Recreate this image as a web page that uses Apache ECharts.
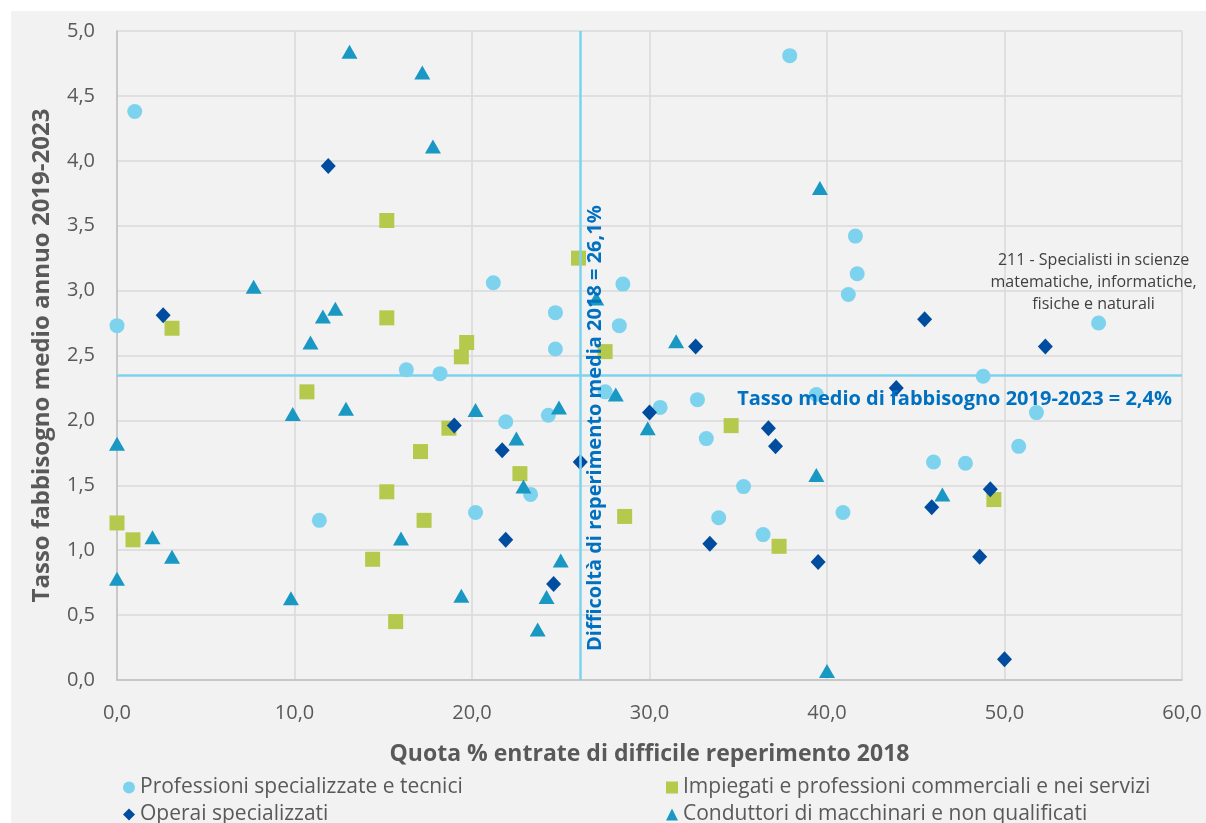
<!DOCTYPE html>
<html>
<head>
<meta charset="utf-8">
<script src="https://cdn.jsdelivr.net/npm/echarts@6/dist/echarts.min.js"></script>
<style>
  body { margin: 0; background: #ffffff; }
  #bg { position: absolute; left: 11px; top: 11px; width: 1195px; height: 812px; background: #f2f2f2; }
  #chart { position: absolute; left: 0; top: 0; width: 1206px; height: 823px; }
</style>
</head>
<body>
<div id="bg"></div>
<div id="chart"></div>
<script>
// [quota % difficile reperimento, tasso fabbisogno]
const professioni = [
    [1.0, 4.38], [0.0, 2.73], [37.9, 4.81], [41.6, 3.42], [41.7, 3.13], [41.2, 2.97],
    [21.2, 3.06], [28.5, 3.05], [24.7, 2.83], [28.3, 2.73], [24.7, 2.55], [16.3, 2.39],
    [18.2, 2.36], [27.5, 2.22], [21.9, 1.99], [24.3, 2.04], [30.6, 2.10], [32.7, 2.16],
    [33.2, 1.86], [35.3, 1.49], [33.9, 1.25], [36.4, 1.12], [23.3, 1.43], [20.2, 1.29],
    [11.4, 1.23], [39.4, 2.20], [48.8, 2.34], [51.8, 2.06], [50.8, 1.80], [46.0, 1.68],
    [47.8, 1.67], [40.9, 1.29]
];
const specialistiScienze = [55.3, 2.75];
const impiegati = [
    [0.0, 1.21], [0.9, 1.08], [3.1, 2.71], [10.7, 2.22], [15.2, 3.54], [15.2, 2.79],
    [15.2, 1.45], [14.4, 0.93], [15.7, 0.45], [17.1, 1.76], [17.3, 1.23], [19.7, 2.60],
    [19.4, 2.49], [18.7, 1.94], [22.7, 1.59], [26.0, 3.25], [27.5, 2.53], [34.6, 1.96],
    [28.6, 1.26], [37.3, 1.03], [49.4, 1.39]
];
const operai = [
    [2.6, 2.81], [11.9, 3.96], [19.0, 1.96], [21.7, 1.77], [21.9, 1.08], [24.6, 0.74],
    [26.1, 1.68], [32.6, 2.57], [30.0, 2.06], [36.7, 1.94], [37.1, 1.80], [33.4, 1.05],
    [39.5, 0.91], [43.9, 2.25], [45.5, 2.78], [52.3, 2.57], [49.2, 1.47], [45.9, 1.33],
    [48.6, 0.95], [50.0, 0.16]
];
const conduttori = [
    [13.1, 4.84], [17.2, 4.68], [17.8, 4.11], [7.7, 3.03], [12.3, 2.86], [11.6, 2.80],
    [10.9, 2.60], [9.9, 2.05], [12.9, 2.09], [0.0, 1.82], [2.0, 1.10], [3.1, 0.95],
    [0.0, 0.78], [9.8, 0.63], [16.0, 1.09], [20.2, 2.08], [19.4, 0.65], [22.5, 1.86],
    [22.9, 1.49], [24.9, 2.10], [25.0, 0.92], [24.2, 0.64], [23.7, 0.39], [28.1, 2.20],
    [29.9, 1.94], [27.0, 2.94], [31.5, 2.61], [39.6, 3.79], [39.4, 1.58], [46.5, 1.43],
    [40.0, 0.07]
];
const mediaDifficolta = 26.1;
const mediaFabbisogno = 2.35;

const fontFamily = '"Open Sans", sans-serif';
const grey = '#595959';
const fmt = v => v.toFixed(1).replace('.', ',');

const chart = echarts.init(document.getElementById('chart'));

function legendAt(name, icon, left, top) {
    return {
        data: [{ name: name, icon: icon }],
        left: left,
        top: top,
        itemWidth: 12,
        itemHeight: 12,
        itemGap: 7,
        padding: 0,
        selectedMode: false,
        textStyle: { color: grey, fontSize: 21, fontFamily: fontFamily }
    };
}

chart.setOption({
    animation: false,
    backgroundColor: 'transparent',
    textStyle: { fontFamily: fontFamily },
    grid: { left: 117, right: 24, top: 31, bottom: 143 },
    legend: [
        legendAt('Professioni specializzate e tecnici', 'circle', 123, 777),
        legendAt('Impiegati e professioni commerciali e nei servizi', 'rect', 666, 777),
        legendAt('Operai specializzati', 'diamond', 123, 804),
        legendAt('Conduttori di macchinari e non qualificati', 'triangle', 666, 804)
    ],
    xAxis: {
        type: 'value',
        min: 0,
        max: 60,
        interval: 10,
        name: 'Quota % entrate di difficile reperimento 2018',
        nameLocation: 'middle',
        nameGap: 63,
        nameTextStyle: { color: grey, fontSize: 23, fontWeight: 'bold', fontFamily: fontFamily },
        axisLine: { show: true, lineStyle: { color: '#bfbfbf', width: 1.5 } },
        axisTick: { show: false },
        axisLabel: { color: grey, fontSize: 20, margin: 23, formatter: fmt },
        splitLine: { show: true, lineStyle: { color: '#d9d9d9', width: 1.5 } }
    },
    yAxis: {
        type: 'value',
        min: 0,
        max: 5,
        interval: 0.5,
        name: 'Tasso fabbisogno medio annuo 2019-2023',
        nameLocation: 'middle',
        nameGap: 63,
        nameTextStyle: { color: grey, fontSize: 24, fontWeight: 'bold', fontFamily: fontFamily },
        axisLine: { show: true, lineStyle: { color: '#bfbfbf', width: 1.5 } },
        axisTick: { show: false },
        axisLabel: { color: grey, fontSize: 20, margin: 22, formatter: fmt },
        splitLine: { show: true, lineStyle: { color: '#d9d9d9', width: 1.5 } }
    },
    series: [
        {
            name: 'Professioni specializzate e tecnici',
            type: 'scatter',
            symbol: 'circle',
            symbolSize: 15,
            itemStyle: { color: '#7dd3ee', opacity: 1 },
            data: professioni.concat([{
                value: specialistiScienze,
                label: {
                    show: true,
                    position: 'top',
                    distance: 0,
                    offset: [-5, 0],
                    align: 'center',
                    color: '#404040',
                    fontSize: 16,
                    lineHeight: 22,
                    formatter: '211 - Specialisti in scienze\nmatematiche, informatiche,\nfisiche e naturali'
                }
            }])
        },
        {
            name: 'Impiegati e professioni commerciali e nei servizi',
            type: 'scatter',
            symbol: 'rect',
            symbolSize: 15,
            itemStyle: { color: '#b5c94c', opacity: 1 },
            data: impiegati
        },
        {
            name: 'Operai specializzati',
            type: 'scatter',
            symbol: 'diamond',
            symbolSize: [15, 16],
            itemStyle: { color: '#004c9e', opacity: 1 },
            data: operai
        },
        {
            name: 'Conduttori di macchinari e non qualificati',
            type: 'scatter',
            symbol: 'triangle',
            symbolSize: [16, 14],
            itemStyle: { color: '#1998c3', opacity: 1 },
            data: conduttori
        },
        {
            name: 'medie',
            type: 'scatter',
            data: [],
            z: 5,
            markLine: {
                silent: true,
                symbol: 'none',
                animation: false,
                lineStyle: { color: '#7dd3ee', width: 2.5, type: 'solid' },
                data: [
                    {
                        xAxis: mediaDifficolta,
                        label: {
                            show: true,
                            position: 'insideStartBottom',
                            distance: 5,
                            padding: [0, 0, 0, 24],
                            color: '#0070c0',
                            fontSize: 20,
                            fontWeight: 'bold',
                            formatter: 'Difficoltà di reperimento media 2018 = 26,1%'
                        }
                    },
                    {
                        yAxis: mediaFabbisogno,
                        label: {
                            show: true,
                            position: 'insideEndBottom',
                            distance: 14,
                            padding: [0, -4, 0, 0],
                            color: '#0070c0',
                            fontSize: 20,
                            fontWeight: 'bold',
                            formatter: 'Tasso medio di fabbisogno 2019-2023 = 2,4%'
                        }
                    }
                ]
            }
        }
    ]
});
</script>
</body>
</html>
